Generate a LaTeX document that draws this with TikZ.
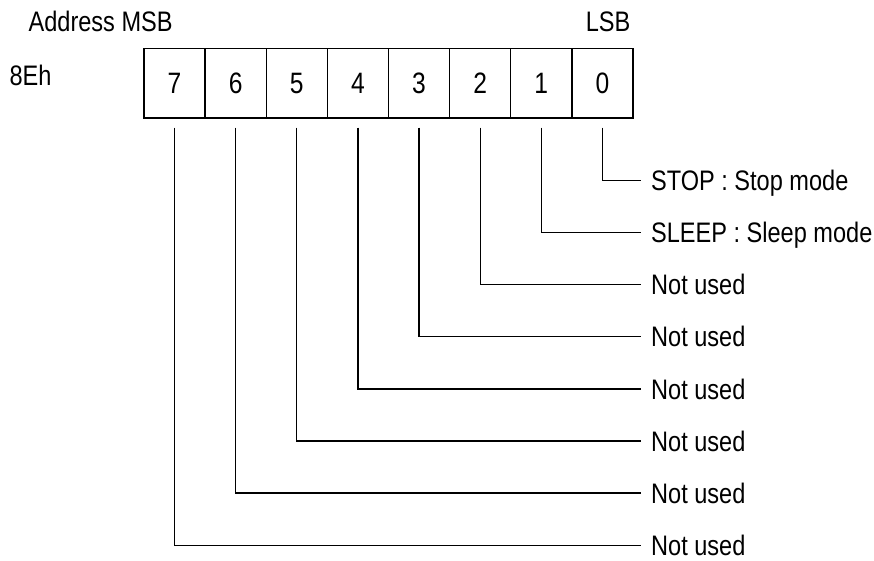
\documentclass[tikz,border=0pt]{standalone}
\usepackage{fontspec}
\setmainfont{Liberation Sans}[FakeStretch=0.835]
\begin{document}
\begin{tikzpicture}[x=1pt,y=-1pt,
  font=\fontsize{28.2}{33}\selectfont,
  line width=1.3pt,
  cell/.style={draw, minimum width=61.1pt, minimum height=69.5pt, inner sep=0pt,
               font=\fontsize{29.5}{34}\selectfont,
               text height=21.1pt, text depth=0pt},
  lbl/.style={anchor=west, inner ysep=0pt, inner xsep=9.5pt,
              text height=20.2pt, text depth=0pt},
  toplbl/.style={inner sep=0pt}]
\useasboundingbox (0,0) rectangle (874,560);
\foreach \b in {0,...,7}
  \node[cell] (b\b) at ({144+61.125*(7-\b)+30.56}, 83.2) {\b};
\node[toplbl, anchor=base west] (addr) at (28,31) {Address MSB};
\node[toplbl, anchor=base east] (lsb) at (631,31) {LSB};
\node[toplbl, anchor=base west] (reg) at (9,85.7) {8Eh};
\node[lbl] (l0) at (641,180.5) {STOP : Stop mode};
\node[lbl] (l1) at (641,232.6) {SLEEP : Sleep mode};
\foreach \b in {2,...,7}
  \node[lbl] (l\b) at (641,{180.5+52.1*\b}) {Not used};
\foreach \b in {0,...,7}
  \draw ([yshift=-9pt]b\b.south) |- (l\b.west);
\end{tikzpicture}
\end{document}
